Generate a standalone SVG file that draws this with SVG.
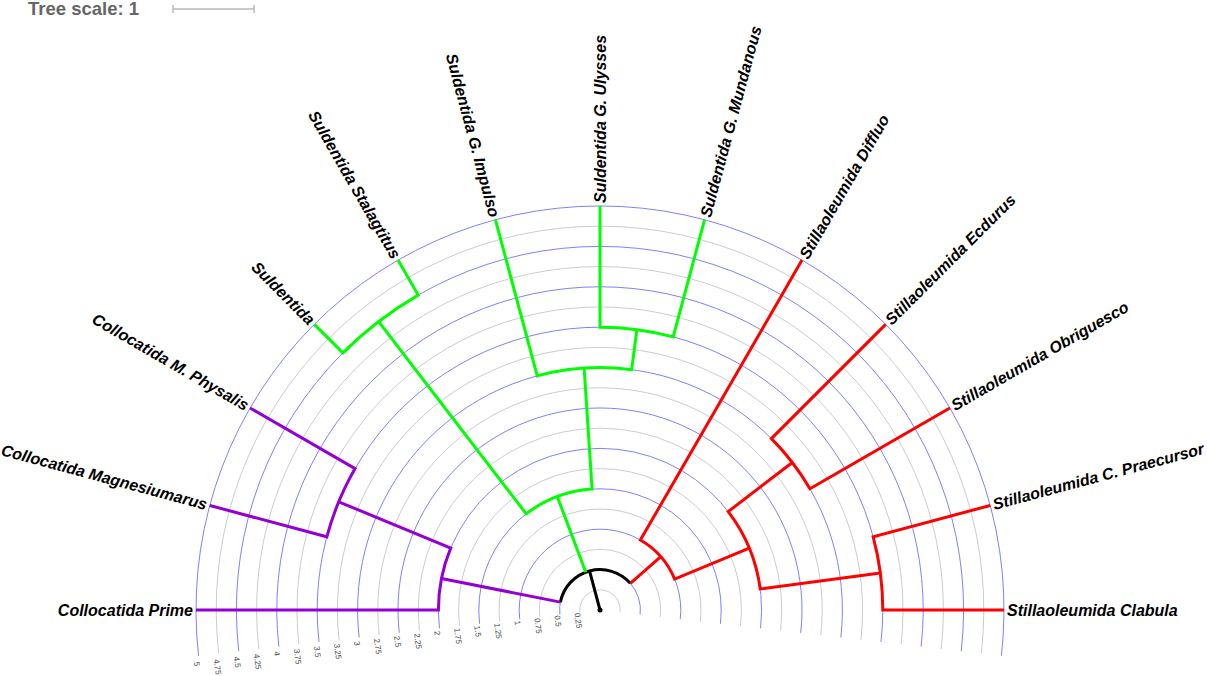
<svg xmlns="http://www.w3.org/2000/svg" width="1207" height="676" viewBox="0 0 1207 676">
<style>
.bg{fill:#ffffff}
.cb{fill:none;stroke:#8080ff;stroke-width:1}
.cg{fill:none;stroke:#cccccc;stroke-width:1}
.ax{font-family:"Liberation Sans",Arial,sans-serif;font-size:8px;fill:#444444;dominant-baseline:central}
.br{fill:none;stroke-width:3;stroke-linejoin:miter;stroke-linecap:butt}
.k{stroke:#000000}
.p{stroke:#9400d3}
.g{stroke:#00ff00}
.r{stroke:#ff0000}
.lf{font-family:"Liberation Sans",Arial,sans-serif;font-size:16px;font-weight:bold;font-style:italic;fill:#000000;dominant-baseline:central}
.ts{font-family:"Liberation Sans",Arial,sans-serif;font-size:18.5px;font-weight:bold;fill:#666666}
.sb{stroke:#bbbbbb;stroke-width:1.5;fill:none}
</style>
<rect class="bg" x="0" y="0" width="1207" height="676"/>
<g id="scale">
<text class="ts" x="28" y="15">Tree scale: 1</text>
<path class="sb" d="M173 9 L254 9 M173 5 L173 13 M254 5 L254 13"/>
</g>
<g id="grid">
<path class="cg" d="M579.93 612.29 A20.2 20.2 0 1 1 620.07 612.29"/>
<path class="cb" d="M559.86 614.57 A40.4 40.4 0 1 1 640.14 614.57"/>
<path class="cg" d="M539.79 616.86 A60.6 60.6 0 1 1 660.21 616.86"/>
<path class="cb" d="M519.72 619.15 A80.8 80.8 0 1 1 680.28 619.15"/>
<path class="cg" d="M499.65 621.43 A101 101 0 1 1 700.35 621.43"/>
<path class="cb" d="M479.58 623.72 A121.2 121.2 0 1 1 720.42 623.72"/>
<path class="cg" d="M459.51 626.01 A141.4 141.4 0 1 1 740.49 626.01"/>
<path class="cb" d="M439.44 628.29 A161.6 161.6 0 1 1 760.56 628.29"/>
<path class="cg" d="M419.37 630.58 A181.8 181.8 0 1 1 780.63 630.58"/>
<path class="cb" d="M399.30 632.87 A202 202 0 1 1 800.70 632.87"/>
<path class="cg" d="M379.23 635.15 A222.2 222.2 0 1 1 820.77 635.15"/>
<path class="cb" d="M359.16 637.44 A242.4 242.4 0 1 1 840.84 637.44"/>
<path class="cg" d="M339.09 639.73 A262.6 262.6 0 1 1 860.91 639.73"/>
<path class="cb" d="M319.02 642.01 A282.8 282.8 0 1 1 880.98 642.01"/>
<path class="cg" d="M298.95 644.30 A303 303 0 1 1 901.05 644.30"/>
<path class="cb" d="M278.88 646.59 A323.2 323.2 0 1 1 921.12 646.59"/>
<path class="cg" d="M258.81 648.87 A343.4 343.4 0 1 1 941.19 648.87"/>
<path class="cb" d="M238.74 651.16 A363.6 363.6 0 1 1 961.26 651.16"/>
<path class="cg" d="M218.67 653.45 A383.8 383.8 0 1 1 981.33 653.45"/>
<path class="cb" d="M198.60 655.73 A404 404 0 1 1 1001.40 655.73"/>
</g>
<g id="axis-labels">
<text class="ax" transform="translate(577.0 612.9) rotate(82.7)">0.25</text>
<text class="ax" transform="translate(557.0 615.5) rotate(82.7)">0.5</text>
<text class="ax" transform="translate(536.9 618.1) rotate(82.7)">0.75</text>
<text class="ax" transform="translate(516.9 620.6) rotate(82.7)">1</text>
<text class="ax" transform="translate(496.8 623.2) rotate(82.7)">1.25</text>
<text class="ax" transform="translate(476.8 625.8) rotate(82.7)">1.5</text>
<text class="ax" transform="translate(456.7 628.3) rotate(82.7)">1.75</text>
<text class="ax" transform="translate(436.7 630.9) rotate(82.7)">2</text>
<text class="ax" transform="translate(416.7 633.5) rotate(82.7)">2.25</text>
<text class="ax" transform="translate(396.6 636.0) rotate(82.7)">2.5</text>
<text class="ax" transform="translate(376.6 638.6) rotate(82.7)">2.75</text>
<text class="ax" transform="translate(356.5 641.2) rotate(82.7)">3</text>
<text class="ax" transform="translate(336.5 643.7) rotate(82.7)">3.25</text>
<text class="ax" transform="translate(316.4 646.3) rotate(82.7)">3.5</text>
<text class="ax" transform="translate(296.4 648.9) rotate(82.7)">3.75</text>
<text class="ax" transform="translate(276.4 651.4) rotate(82.7)">4</text>
<text class="ax" transform="translate(256.3 654.0) rotate(82.7)">4.25</text>
<text class="ax" transform="translate(236.3 656.6) rotate(82.7)">4.5</text>
<text class="ax" transform="translate(216.2 659.1) rotate(82.7)">4.75</text>
<text class="ax" transform="translate(196.2 661.7) rotate(82.7)">5</text>
</g>
<g id="connectors">
<path class="br k" d="M600 610 L589.54 570.98"/>
<path class="br k" d="M560.38 602.12 A40.4 40.4 0 0 1 630.37 583.36"/>
<path class="br p" d="M560.38 602.12 L441.50 578.47"/>
<path class="br p" d="M196 610 L438.4 610 A161.6 161.6 0 0 1 450.70 548.16 L338.73 501.78"/>
<path class="br p" d="M209.76 505.44 L326.83 536.81 A282.8 282.8 0 0 1 355.09 468.6 L250.12 408"/>
<path class="br g" d="M585.77 572.19 L557.31 496.57"/>
<path class="br g" d="M378.66 321.54 L526.22 513.85 A121.2 121.2 0 0 1 592.07 489.06 L584.15 368.12"/>
<path class="br g" d="M314.33 324.33 L342.90 352.90 A363.6 363.6 0 0 1 418.2 295.11 L398 260.12"/>
<path class="br g" d="M495.44 219.76 L537.26 375.86 A242.4 242.4 0 0 1 631.64 369.68 L636.91 329.62"/>
<path class="br g" d="M600 206 L600 327.2 A282.8 282.8 0 0 1 673.19 336.83 L704.56 219.76"/>
<path class="br r" d="M630.37 583.36 L660.75 556.72"/>
<path class="br r" d="M802 260.12 L640.4 540.03 A80.8 80.8 0 0 1 674.65 579.08 L749.30 548.16"/>
<path class="br r" d="M792.31 462.44 L728.21 511.62 A161.6 161.6 0 0 1 760.22 588.91 L880.38 573.09"/>
<path class="br r" d="M885.67 324.33 L771.40 438.60 A242.4 242.4 0 0 1 809.93 488.8 L949.88 408"/>
<path class="br r" d="M990.24 505.44 L873.17 536.81 A282.8 282.8 0 0 1 882.8 610 L1004 610"/>
</g>
<g id="root"><circle cx="600" cy="610" r="2.5" fill="#000000"/></g>
<g id="leaf-collocatida-prime"><text class="lf" text-anchor="end" transform="translate(193 610)">Collocatida Prime</text></g>
<g id="leaf-collocatida-magnesiumarus"><text class="lf" text-anchor="end" transform="translate(206.87 504.66) rotate(15)">Collocatida Magnesiumarus</text></g>
<g id="leaf-collocatida-m-physalis"><text class="lf" text-anchor="end" transform="translate(247.53 406.5) rotate(30)">Collocatida M. Physalis</text></g>
<g id="leaf-suldentida"><text class="lf" text-anchor="end" transform="translate(312.21 322.21) rotate(45)">Suldentida</text></g>
<g id="leaf-suldentida-stalagtitus"><text class="lf" text-anchor="end" transform="translate(396.5 257.53) rotate(60)">Suldentida Stalagtitus</text></g>
<g id="leaf-suldentida-g-impulso"><text class="lf" text-anchor="end" transform="translate(494.66 216.87) rotate(75)">Suldentida G. Impulso</text></g>
<g id="leaf-suldentida-g-ulysses"><text class="lf" transform="translate(600 203) rotate(-90)">Suldentida G. Ulysses</text></g>
<g id="leaf-suldentida-g-mundanous"><text class="lf" transform="translate(705.34 216.87) rotate(-75)">Suldentida G. Mundanous</text></g>
<g id="leaf-stillaoleumida-diffluo"><text class="lf" transform="translate(803.5 257.53) rotate(-60)">Stillaoleumida Diffluo</text></g>
<g id="leaf-stillaoleumida-ecdurus"><text class="lf" transform="translate(887.79 322.21) rotate(-45)">Stillaoleumida Ecdurus</text></g>
<g id="leaf-stillaoleumida-obriguesco"><text class="lf" transform="translate(952.47 406.5) rotate(-30)">Stillaoleumida Obriguesco</text></g>
<g id="leaf-stillaoleumida-c-praecursor"><text class="lf" transform="translate(993.13 504.66) rotate(-15)">Stillaoleumida C. Praecursor</text></g>
<g id="leaf-stillaoleumida-clabula"><text class="lf" transform="translate(1007 610)">Stillaoleumida Clabula</text></g>
</svg>
